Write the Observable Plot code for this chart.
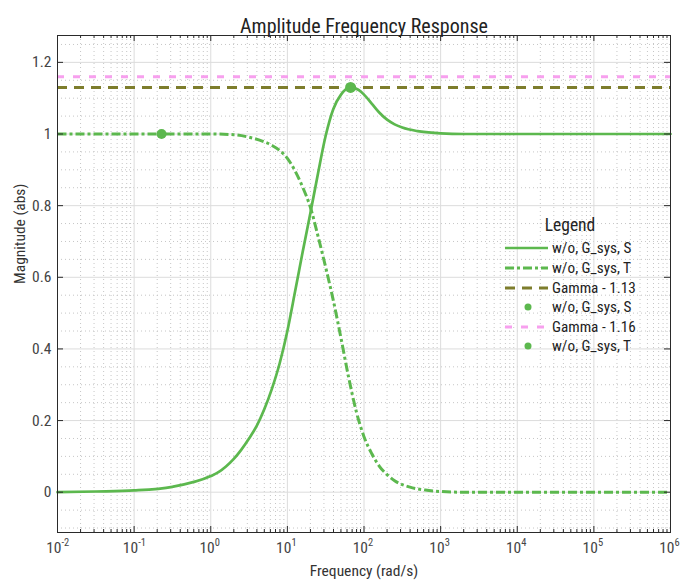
<!DOCTYPE html>
<html>
<head>
<meta charset="utf-8">
<script src="https://cdn.jsdelivr.net/npm/d3@7"></script>
<script src="https://cdn.jsdelivr.net/npm/@observablehq/plot@0.6"></script>
<style>
  html, body { margin: 0; padding: 0; background: #fff; }
  #wrap { position: relative; width: 681px; height: 585px; }
  #wrap svg { position: absolute; left: 0; top: 0; }
</style>
</head>
<body>
<div id="wrap"></div>
<script>
// ---- data ----
const sFreq = [0.01, 0.0316, 0.1, 0.316, 1, 1.26, 1.58, 2.0, 2.51, 3.16, 3.98, 5.01, 6.31, 7.94, 10, 12.6, 15.8, 20.0, 25.1, 31.6, 39.8, 50.1, 63.1, 79.4, 100, 126, 158, 200, 251, 316, 501, 1000, 2000, 1e6];
const sMag  = [0, 0.002, 0.005, 0.015, 0.045, 0.056, 0.072, 0.093, 0.119, 0.150, 0.185, 0.232, 0.290, 0.360, 0.450, 0.560, 0.670, 0.780, 0.890, 0.995, 1.070, 1.110, 1.128, 1.126, 1.110, 1.085, 1.060, 1.040, 1.027, 1.018, 1.008, 1.002, 1.0, 1.0];
const tFreq = [0.01, 1, 2.0, 3.16, 5.01, 6.31, 7.94, 10, 12.6, 15.8, 20.0, 25.1, 31.6, 39.8, 50.1, 63.1, 79.4, 100, 126, 158, 200, 251, 398, 631, 1000, 2000, 1e6];
const tMag  = [1.0, 1.0, 0.998, 0.991, 0.978, 0.968, 0.954, 0.932, 0.897, 0.852, 0.795, 0.715, 0.628, 0.535, 0.430, 0.320, 0.225, 0.155, 0.108, 0.073, 0.049, 0.032, 0.014, 0.006, 0.002, 0, 0];
const gammaLevels = [1.13, 1.16];
const sPeak = [{f: 66.8, m: 1.13}];
const tMarker = [{f: 0.228, m: 1.0}];
const decades = [1e-2, 1e-1, 1e0, 1e1, 1e2, 1e3, 1e4, 1e5, 1e6];
const decadeExp = ["-2", "-1", "0", "1", "2", "3", "4", "5", "6"];
const yTicks = [0, 0.2, 0.4, 0.6, 0.8, 1, 1.2];
const yTickLabels = ["0", "0.2", "0.4", "0.6", "0.8", "1", "1.2"];
const legendLabels = ["w/o, G_sys, S", "w/o, G_sys, T", "Gamma - 1.13", "w/o, G_sys, S", "Gamma - 1.16", "w/o, G_sys, T"];

// ---- derived tables ----
const sData = sFreq.map((f, i) => ({f, m: sMag[i]}));
const tData = tFreq.map((f, i) => ({f, m: tMag[i]}));
const xMinor = [];
for (let e = -2; e < 6; e++) for (let k = 2; k <= 9; k++) xMinor.push(k * Math.pow(10, e));
const yMinor = d3.range(-0.1, 1.2751, 0.05).map(v => +v.toFixed(2)).filter(v => Math.abs(v * 5 - Math.round(v * 5)) > 1e-6);

const GREEN = "#5cb84e", OLIVE = "#7d7d2c", PINK = "#f7a0ee";
const FONT = "'Roboto Condensed', 'Liberation Sans Narrow', 'DejaVu Sans Condensed', Roboto, sans-serif";

const W = 681, H = 585, mT = 35, mL = 57, mR = 11, mB = 53;
const fh = H - mT - mB, fw = W - mL - mR;

const chart = Plot.plot({
  width: W, height: H,
  marginTop: mT, marginLeft: mL, marginRight: mR, marginBottom: mB,
  style: {fontFamily: FONT, fontSize: "15px", background: "transparent", overflow: "visible"},
  x: {type: "log", domain: [1e-2, 1e6], axis: null},
  y: {domain: [-0.1125, 1.275], axis: null},
  marks: [
    // minor grid
    Plot.ruleX(xMinor, {stroke: "#c6c6c6", strokeWidth: 1, strokeDasharray: "1,3"}),
    Plot.ruleY(yMinor, {stroke: "#c6c6c6", strokeWidth: 1, strokeDasharray: "1,3"}),
    // major grid
    Plot.ruleX(decades, {stroke: "#dcdcdc", strokeWidth: 1}),
    Plot.ruleY(yTicks, {stroke: "#dcdcdc", strokeWidth: 1}),
    // gamma lines
    Plot.ruleY([gammaLevels[1]], {stroke: PINK, strokeWidth: 3, strokeDasharray: "7,9"}),
    Plot.ruleY([gammaLevels[0]], {stroke: OLIVE, strokeWidth: 3, strokeDasharray: "10,7"}),
    // curves
    Plot.line(tData, {x: "f", y: "m", stroke: GREEN, strokeWidth: 3, strokeDasharray: "9,3,3,3", strokeLinecap: "butt", curve: "monotone-x"}),
    Plot.line(sData, {x: "f", y: "m", stroke: GREEN, strokeWidth: 2.7, curve: "monotone-x"}),
    Plot.dot(sPeak, {x: "f", y: "m", r: 5.5, fill: GREEN}),
    Plot.dot(tMarker, {x: "f", y: "m", r: 5, fill: GREEN}),
    // frame and inward ticks
    Plot.frame({stroke: "#2a2a2a", strokeWidth: 1}),
    Plot.tickX(decades, {stroke: "#2a2a2a", insetTop: fh - 6}),
    Plot.tickX(decades, {stroke: "#2a2a2a", insetBottom: fh - 6}),
    Plot.tickX(xMinor, {stroke: "#2a2a2a", insetTop: fh - 3}),
    Plot.tickX(xMinor, {stroke: "#2a2a2a", insetBottom: fh - 3}),
    Plot.tickY(yTicks, {stroke: "#2a2a2a", insetRight: fw - 6}),
    Plot.tickY(yTicks, {stroke: "#2a2a2a", insetLeft: fw - 6}),
    // y tick labels
    Plot.text(yTicks, {y: d => d, text: (d, i) => yTickLabels[i], frameAnchor: "left", dx: -6, textAnchor: "end", fill: "#444", fontSize: 15.5}),
    // x tick labels: base and exponent
    Plot.text(decades, {x: d => d, text: () => "10", frameAnchor: "bottom", dy: 20, dx: 4, textAnchor: "end", fill: "#444", fontSize: 15.5}),
    Plot.text(decades, {x: d => d, text: (d, i) => decadeExp[i], frameAnchor: "bottom", dy: 13, dx: 4, textAnchor: "start", fill: "#444", fontSize: 10.5}),
    // axis labels and title
    Plot.text(["Frequency (rad/s)"], {text: d => d, frameAnchor: "bottom", dy: 43, fill: "#333", fontSize: 15.5}),
    Plot.text(["Magnitude (abs)"], {text: d => d, frameAnchor: "left", dx: -37, rotate: -90, fill: "#333", fontSize: 15.5}),
    Plot.text(["Amplitude Frequency Response"], {text: d => d, frameAnchor: "top", dy: -17, fill: "#222", fontSize: 20})
  ]
});
const wrap = document.getElementById("wrap");
wrap.appendChild(chart);

// ---- legend overlay ----
const leg = d3.select(wrap).append("svg").attr("width", W).attr("height", H)
  .style("pointer-events", "none").style("font-family", FONT);
leg.append("text").attr("x", 570).attr("y", 225).attr("dy", "0.35em").attr("text-anchor", "middle")
  .attr("font-size", 17.5).attr("fill", "#222").text("Legend");
const rowsY = [248, 268, 288, 307, 327, 346];
const styles = [
  {type: "line", stroke: GREEN, w: 2.7, dash: null},
  {type: "line", stroke: GREEN, w: 3, dash: "9,3,3,3"},
  {type: "line", stroke: OLIVE, w: 3, dash: "10,7"},
  {type: "dot", fill: GREEN},
  {type: "line", stroke: PINK, w: 3, dash: "7,9"},
  {type: "dot", fill: GREEN}
];
styles.forEach((s, i) => {
  const y = rowsY[i];
  if (s.type === "line") {
    const l = leg.append("line").attr("x1", 505).attr("x2", 548).attr("y1", y).attr("y2", y)
      .attr("stroke", s.stroke).attr("stroke-width", s.w);
    if (s.dash) l.attr("stroke-dasharray", s.dash);
  } else {
    leg.append("circle").attr("cx", 528).attr("cy", y).attr("r", 3.5).attr("fill", s.fill);
  }
  leg.append("text").attr("x", 552).attr("y", y).attr("dy", "0.35em").attr("font-size", 15.2)
    .attr("fill", "#222").text(legendLabels[i]);
});
</script>
</body>
</html>
